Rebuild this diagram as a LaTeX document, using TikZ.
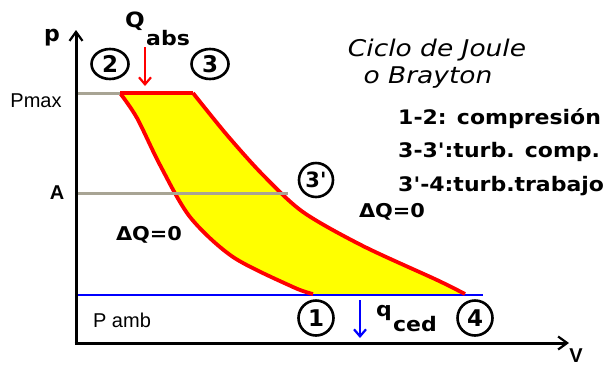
\documentclass[tikz,border=0pt]{standalone}
\usepackage{fontspec}
\setmainfont{Liberation Sans}
\newfontfamily\legfont{DejaVu Sans}[FakeStretch=1.1]
\newfontfamily\numfont{DejaVu Sans}
\newfontfamily\titfont{DejaVu Sans}[FakeStretch=1.15]
\usetikzlibrary{arrows.meta,shapes.geometric}
\definecolor{grayl}{RGB}{168,164,148}
\definecolor{redc}{RGB}{255,0,0}
\definecolor{bluec}{RGB}{0,0,255}
\definecolor{yel}{RGB}{255,255,0}
\tikzset{
  lbl/.style={inner sep=0pt},
  legtext/.style={inner sep=0pt, anchor=base west, font=\legfont\bfseries\fontsize{20}{20}\selectfont},
  numc/.style={draw, circle, line width=2.6pt, minimum size=35pt, inner sep=0pt, font=\numfont\bfseries\fontsize{23}{23}\selectfont},
  nume/.style={draw, ellipse, line width=2.6pt, minimum width=37pt, minimum height=30pt, inner sep=0pt, font=\numfont\bfseries\fontsize{23}{23}\selectfont},
  axis/.style={line width=3pt, -{Straight Barb[length=9pt,width=13pt,line width=2.2pt]}},
  curve/.style={draw=redc, line width=3.8pt, line join=round},
  grayline/.style={draw=grayl, line width=3pt},
  heatarrow/.style={line width=2.6pt, -{Straight Barb[length=7pt,width=12pt,line width=2.2pt]}},
  bold/.style={font=\legfont\bfseries\fontsize{20}{20}\selectfont},
}
\begin{document}
\begin{tikzpicture}[x=1pt,y=-1pt]
\useasboundingbox (0,0) rectangle (607,368);
% coordinates
\coordinate (O) at (76,343);
\coordinate (ptop) at (76,30);
\coordinate (vend) at (569,343);
\coordinate (pm0) at (76,93);
\coordinate (c2) at (120,93);
\coordinate (c3) at (193,93);
\coordinate (a0) at (76,193);
\coordinate (a1) at (288,193);
\coordinate (b0) at (76,295);
\coordinate (b1) at (483,295);
\coordinate (c1) at (313,294);
\coordinate (c4) at (465,294);
\def\rightcurve{(193,93) (227,135) (263,175) (303,212) (363,246) (437,280) (465,294)}
\def\leftcurve{(313,294) (293,287) (233,257) (190,217) (160,165) (137,118) (120,93)}
% fill and cycle
\fill[yel] (c2) -- (c3) -- plot[smooth] coordinates {\rightcurve} -- (c1) -- plot[smooth] coordinates {\leftcurve} -- cycle;
\draw[draw=bluec, line width=1.6pt] (b0) -- (b1);
\draw[curve] (c2) -- (c3);
\draw[curve] plot[smooth] coordinates {\rightcurve};
\draw[curve] plot[smooth] coordinates {\leftcurve};
\draw[grayline] (pm0) -- (c2);
\draw[grayline] (a0) -- (a1);
% axes
\draw[axis] (O) -- (ptop);
\draw[axis] ([xshift=-1.5pt]O) -- (vend);
% labels
\node[lbl, font=\numfont\bfseries\fontsize{22}{22}\selectfont] (plab) at (52,38) {p};
\node[lbl, font=\bfseries\fontsize{20}{20}\selectfont] (vlab) at (576,356) {V};
\node[lbl, font=\fontsize{20}{20}\selectfont] (pmax) at (36,101) {Pmax};
\node[lbl, font=\bfseries\fontsize{20}{20}\selectfont] (alab) at (57,193) {A};
\node[lbl, font=\fontsize{20}{20}\selectfont] (pamb) at (122,320) {P amb};
% state circles
\node[nume] (n2) at (110,64) {2};
\node[nume] (n3) at (210,64) {3};
\node[numc, minimum size=34pt, font=\numfont\bfseries\fontsize{21}{21}\selectfont] (n3p) at (316,180) {3'};
\node[numc] (n1) at (316,318) {1};
\node[numc] (n4) at (475,318) {4};
% heat
\node[lbl, font=\legfont\bfseries\fontsize{21}{21}\selectfont] (Q) at (135,21) {Q};
\node[lbl, bold] (abs) at (168,38) {abs};
\coordinate (qa0) at (145,47);
\coordinate (qa1) at (145,86);
\draw[heatarrow, redc] (qa0) -- (qa1);
\node[lbl, bold] (q) at (384,313) {q};
\node[lbl, bold] (ced) at (415,324) {ced};
\coordinate (qc0) at (360,300);
\coordinate (qc1) at (360,338);
\draw[heatarrow, bluec] (qc0) -- (qc1);
% adiabatic labels
\node[lbl, font=\legfont\bfseries\fontsize{19}{19}\selectfont] (dq1) at (149,235) {ΔQ=0};
\node[lbl, font=\legfont\bfseries\fontsize{19}{19}\selectfont] (dq2) at (392,212) {ΔQ=0};
% title
\node[lbl, font=\titfont\itshape\fontsize{23}{23}\selectfont] (t1) at (437,50) {Ciclo de Joule};
\node[lbl, font=\titfont\itshape\fontsize{23}{23}\selectfont] (t2) at (428,78) {o Brayton};
% legend
\node[legtext] (l1) at (398,124) {1-2: compresión};
\node[legtext] (l2) at (398,157) {3-3':turb. comp.};
\node[legtext] (l3) at (398,191) {3'-4:turb.trabajo};
\end{tikzpicture}
\end{document}
